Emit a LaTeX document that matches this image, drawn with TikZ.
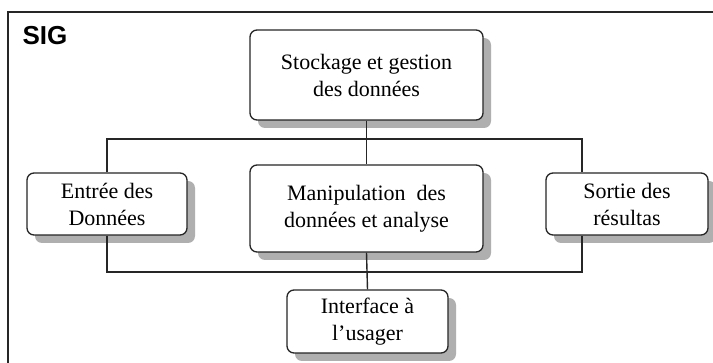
\documentclass[tikz,border=0pt]{standalone}
\usepackage{fontspec}
\setmainfont{Liberation Serif}
\newfontfamily\sigfont{Liberation Sans}
\usetikzlibrary{shadows}
\definecolor{shadowgray}{RGB}{175,175,175}
\begin{document}
\begin{tikzpicture}[x=1pt,y=-1pt,
  box/.style={draw=black!85, line width=1.3pt, rounded corners=7pt, fill=white,
    align=center, inner sep=0pt, font=\fontsize{22}{27}\selectfont,
    drop shadow={shadow xshift=8pt, shadow yshift=-8pt, fill=shadowgray, opacity=1}},
  conn/.style={draw=black!85, line width=1.4pt}]
\useasboundingbox (0,0) rectangle (713,363);
\fill[white] (0,0) rectangle (713,363);
\begin{scope}
\clip (0,0) rectangle (713,363);
\draw[line width=1.3pt, black!85] (8,12) rectangle (730,380);
\end{scope}
\node[anchor=base west, font=\sigfont\bfseries\fontsize{26}{30}\selectfont] (sig) at (19,45) {SIG};
\node[box, minimum width=233pt, minimum height=90pt] (stock) at (366.5,75) {Stockage et gestion\\des données};
\node[box, minimum width=160pt, minimum height=62pt] (entree) at (107,204) {Entrée des\\Données};
\node[box, minimum width=233pt, minimum height=87pt] (manip) at (366.5,208.5) {Manipulation\ \ des\\données et analyse};
\node[box, minimum width=162pt, minimum height=62pt] (sortie) at (627,204) {Sortie des\\résultas};
\node[box, minimum width=161pt, minimum height=63pt] (interf) at (367.5,321.5) {Interface à\\l’usager};
\coordinate (rt) at (582,139);
\coordinate (rb) at (582,272);
\draw[conn] (stock.south) -- (manip.north);
\draw[conn] (entree.north) |- (rt) -- (sortie.north -| rt);
\draw[conn] (entree.south) |- (rb) -- (sortie.south -| rb);
\draw[conn] (manip.south) -- (interf.north);
\end{tikzpicture}
\end{document}
